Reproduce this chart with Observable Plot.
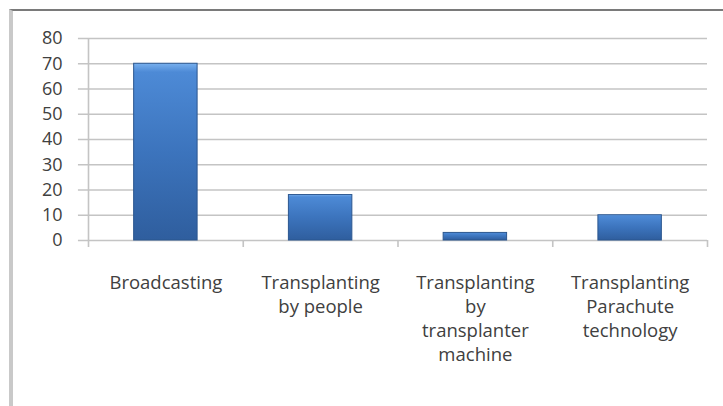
<!DOCTYPE html>
<html>
<head>
<meta charset="utf-8">
<script src="https://cdn.jsdelivr.net/npm/d3@7"></script>
<script src="https://cdn.jsdelivr.net/npm/@observablehq/plot@0.6"></script>
<style>
  html, body { margin: 0; padding: 0; background: #fff; }
  #wrap { position: relative; width: 723px; height: 406px; overflow: hidden; }
  #frame { position: absolute; left: 9px; top: 9px; width: 730px; height: 420px;
           border-left: 4px solid #c9c9c9; border-top: 2px solid #7a7a7a; box-sizing: border-box; }
  #chart { position: absolute; left: 0; top: 0; }
</style>
</head>
<body>
<div id="wrap"><div id="frame"></div><div id="chart"></div></div>
<script>
const categories = ["Broadcasting", "Transplanting by people", "Transplanting by transplanter machine", "Transplanting Parachute technology"];
const labels = ["Broadcasting", "Transplanting\nby people", "Transplanting\nby\ntransplanter\nmachine", "Transplanting\nParachute\ntechnology"];
const values = [70, 18, 3, 10];
const yTicks = [0, 10, 20, 30, 40, 50, 60, 70, 80];

const data = categories.map((c, i) => ({cat: c, label: labels[i], value: values[i], i}));
const half = 0.205;
const font = "Open Sans, Lato, sans-serif";

const chart = Plot.plot({
  width: 723,
  height: 406,
  marginLeft: 88,
  marginRight: 16,
  marginTop: 38,
  marginBottom: 166,
  style: {background: "transparent", fontFamily: font, color: "#404040"},
  x: {type: "linear", domain: [0, categories.length], axis: null},
  y: {domain: [0, 80], axis: null},
  marks: [
    Plot.ruleY(yTicks, {x1: -0.065, x2: categories.length, stroke: "#c4c4c4", strokeWidth: 1.6}),
    Plot.ruleX([0], {y1: 0, y2: 80, stroke: "#c4c4c4", strokeWidth: 1.6}),
    Plot.axisX({ticks: d3.range(categories.length + 1), tickSize: 7, tickFormat: () => "", stroke: "#c4c4c4", strokeWidth: 1.6, strokeOpacity: 1}),
    Plot.text(yTicks, {x: 0, y: d => d, text: d => String(d), textAnchor: "end", dx: -26, fontSize: 18, fill: "#404040"}),
    Plot.rectY(data, {x1: d => d.i + 0.5 - half, x2: d => d.i + 0.5 + half, y1: 0, y2: "value", fill: "url(#barGrad)", stroke: "#2b568f", strokeWidth: 1}),
    Plot.text(data, {x: d => d.i + 0.5, y: 0, text: "label", lineAnchor: "top", dy: 31, fontSize: 18.5, lineHeight: 1.3, fill: "#404040"})
  ]
});

const ns = "http://www.w3.org/2000/svg";
const defs = document.createElementNS(ns, "defs");
defs.innerHTML = `
  <linearGradient id="barGrad" x1="0" y1="0" x2="0" y2="1">
    <stop offset="0" stop-color="#78b0ee"/>
    <stop offset="0.05" stop-color="#4d8ad6"/>
    <stop offset="0.5" stop-color="#3c74bd"/>
    <stop offset="1" stop-color="#2f5e9e"/>
  </linearGradient>`;
chart.insertBefore(defs, chart.firstChild);
document.getElementById("chart").appendChild(chart);
</script>
</body>
</html>
